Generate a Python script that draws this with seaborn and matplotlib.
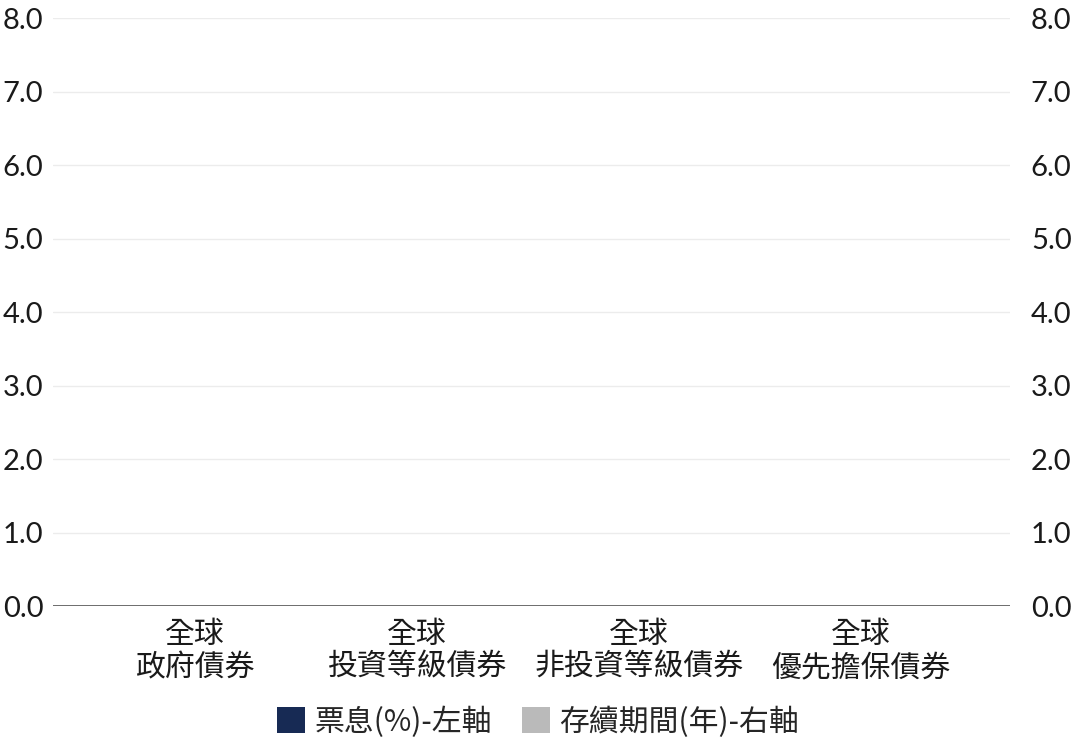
import numpy as np
import pandas as pd
import matplotlib
matplotlib.use("Agg")
import matplotlib.pyplot as plt
from matplotlib.patches import Patch
import seaborn as sns

# ---- data (no bars are visible in the reference: values are empty/zero) ----
categories = ["全球\n政府債券", "全球\n投資等級債券", "全球\n非投資等級債券", "全球\n優先擔保債券"]
coupon_values = [0.0, 0.0, 0.0, 0.0]      # 票息(%) - left axis
duration_values = [0.0, 0.0, 0.0, 0.0]    # 存續期間(年) - right axis
series_names = ["票息(%)-左軸", "存續期間(年)-右軸"]
y_ticks = [0, 1, 2, 3, 4, 5, 6, 7, 8]
y_tick_labels = ["0.0", "1.0", "2.0", "3.0", "4.0", "5.0", "6.0", "7.0", "8.0"]

colors = {"票息(%)-左軸": "#172a54", "存續期間(年)-右軸": "#bababa"}

df = pd.DataFrame({
    "category": categories * 2,
    "series": [series_names[0]] * 4 + [series_names[1]] * 4,
    "value": coupon_values + duration_values,
})

sns.set_theme(style="white")
plt.rcParams["font.family"] = ["Lato", "Noto Sans CJK TC", "DejaVu Sans"]

fig = plt.figure(figsize=(10.76, 7.52), dpi=100)
ax = fig.add_axes([0.04926, 0.1941, 0.8894, 0.7819])
ax2 = ax.twinx()

sns.barplot(data=df[df.series == series_names[0]], x="category", y="value",
            hue="series", hue_order=series_names, palette=colors,
            order=categories, ax=ax, linewidth=0, legend=False, errorbar=None)
sns.barplot(data=df[df.series == series_names[1]], x="category", y="value",
            hue="series", hue_order=series_names, palette=colors,
            order=categories, ax=ax2, linewidth=0, legend=False, errorbar=None)

for a in (ax, ax2):
    a.set_ylim(0, 8)
    a.set_yticks(y_ticks)
    a.set_xlim(-0.64, 3.67)
    a.set_xlabel("")
    a.set_ylabel("")
    for s in a.spines.values():
        s.set_visible(False)
    a.tick_params(length=0)

ax.set_yticklabels(y_tick_labels, fontsize=21, color="#1a1a1a")
ax2.set_yticklabels(y_tick_labels, fontsize=21, color="#1a1a1a")
ax.tick_params(axis="y", pad=7)
ax2.tick_params(axis="y", pad=15)
ax2.tick_params(axis="x", labelbottom=False, labeltop=False)

ax.yaxis.grid(True, color="#ececec", linewidth=1)
ax.set_axisbelow(True)
ax.axhline(0, color="#555555", linewidth=1.2, zorder=5)

ax.set_xticks(range(len(categories)))
ax.set_xticklabels(categories, fontsize=21.5, color="#1a1a1a",
                   family=["Noto Sans CJK TC", "DejaVu Sans"], linespacing=1.1)
ax.tick_params(axis="x", pad=9)

handles = [Patch(facecolor=colors[n], edgecolor="none", label=n) for n in series_names]
fig.legend(handles=handles, loc="center", bbox_to_anchor=(0.5, 0.04), ncol=2,
           frameon=False, handlelength=0.95, handleheight=0.95, handletextpad=0.3,
           columnspacing=1.0, prop={"family": ["Noto Sans CJK TC", "DejaVu Sans"], "size": 21.5})

fig.savefig("out.png", dpi=100)
